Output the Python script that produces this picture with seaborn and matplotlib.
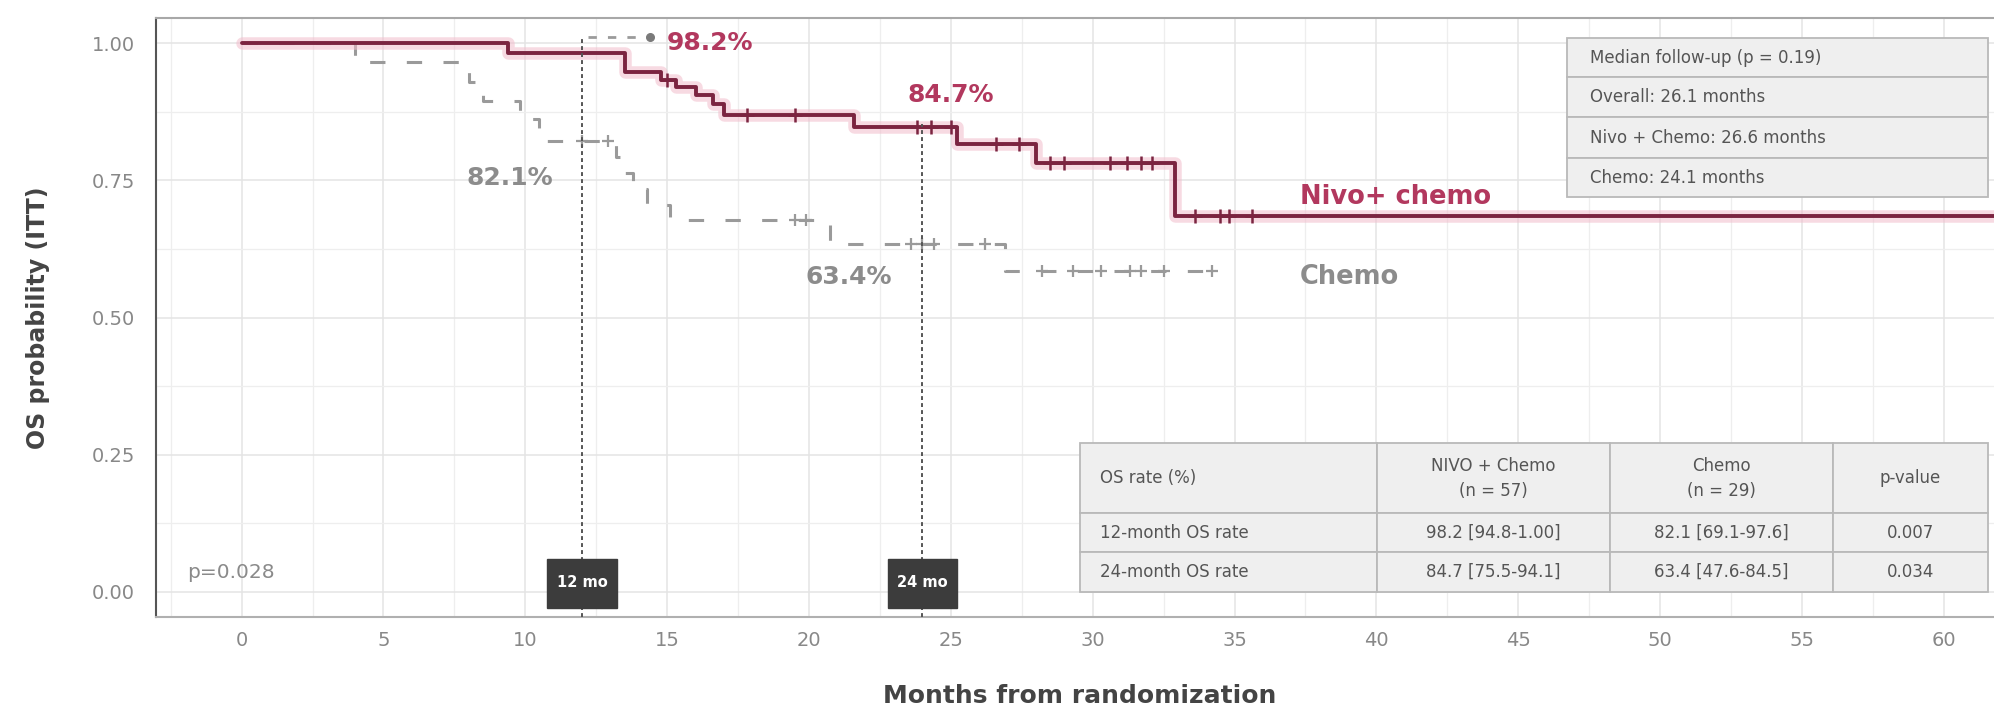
import numpy as np
import pandas as pd
import matplotlib
matplotlib.use("Agg")
import matplotlib.pyplot as plt
from matplotlib.patches import Rectangle
from matplotlib.ticker import MultipleLocator
import seaborn as sns

# ---- Kaplan-Meier estimates (months, survival after each event) ----
nivo_times = [0, 9.4, 13.5, 14.8, 15.3, 16.0, 16.6, 17.0, 21.6, 25.2, 28.0, 32.9, 62.5]
nivo_surv = [1.0, 0.982, 0.948, 0.933, 0.920, 0.905, 0.890, 0.869, 0.847, 0.817, 0.781, 0.685, 0.685]
nivo_censor = [15.0, 17.8, 19.5, 23.8, 24.3, 25.0, 26.6, 27.4, 28.5, 29.0, 30.6,
               31.2, 31.7, 32.1, 33.6, 34.5, 34.8, 35.6]

chemo_times = [0, 4.0, 8.0, 8.5, 9.8, 10.5, 13.2, 13.5, 13.8, 14.3, 15.1, 20.75, 26.9, 34.2]
chemo_surv = [1.0, 0.965, 0.930, 0.895, 0.862, 0.821, 0.792, 0.763, 0.734, 0.706, 0.678, 0.634, 0.585, 0.585]
chemo_censor = [12.0, 12.9, 19.5, 19.9, 23.6, 24.0, 24.4, 26.2, 28.2, 29.3, 30.3,
                31.3, 31.7, 32.5, 34.2]

landmark_months = [12, 24]
landmark_labels = ["12 mo", "24 mo"]

arm_names = ["Nivo+ chemo", "Chemo"]
p_logrank = "p=0.028"

followup_lines = ["Median follow-up (p = 0.19)", "Overall: 26.1 months",
                  "Nivo + Chemo: 26.6 months", "Chemo: 24.1 months"]

table_header = ["OS rate (%)", "NIVO + Chemo\n(n = 57)", "Chemo\n(n = 29)", "p-value"]
table_rows = [
    ["12-month OS rate", "98.2 [94.8-1.00]", "82.1 [69.1-97.6]", "0.007"],
    ["24-month OS rate", "84.7 [75.5-94.1]", "63.4 [47.6-84.5]", "0.034"],
]

x_ticks = list(range(0, 61, 5))
y_ticks = [0.0, 0.25, 0.50, 0.75, 1.00]

# ---- style ----
sns.set_theme(style="white")
plt.rcParams["font.family"] = ["DejaVu Sans"]

NIVO = "#7b2440"
NIVO_TXT = "#b2385e"
NIVO_GLOW = "#f2bccb"
CHEMO = "#9a9a9a"
CHEMO_TXT = "#8c8c8c"
TXT = "#555555"


def step_value(times, surv, t):
    i = np.searchsorted(np.asarray(times), t, side="right") - 1
    return np.asarray(surv)[i]


km = pd.concat([
    pd.DataFrame({"month": nivo_times, "surv": nivo_surv, "arm": arm_names[0]}),
    pd.DataFrame({"month": chemo_times, "surv": chemo_surv, "arm": arm_names[1]}),
], ignore_index=True)

cens = pd.concat([
    pd.DataFrame({"month": nivo_censor,
                  "surv": step_value(nivo_times, nivo_surv, np.array(nivo_censor)),
                  "arm": arm_names[0]}),
    pd.DataFrame({"month": chemo_censor,
                  "surv": step_value(chemo_times, chemo_surv, np.array(chemo_censor)),
                  "arm": arm_names[1]}),
], ignore_index=True)

fig = plt.figure(figsize=(19.94, 7.07), dpi=100)
ax = fig.add_axes([0.0782, 0.1273, 0.9218, 0.8472])
ax.set_facecolor("white")

# grid
ax.xaxis.set_major_locator(MultipleLocator(5))
ax.xaxis.set_minor_locator(MultipleLocator(2.5))
ax.yaxis.set_minor_locator(MultipleLocator(0.125))
ax.grid(which="major", color="#e4e4e4", lw=1.1, zorder=0)
ax.grid(which="minor", color="#eeeeee", lw=0.9, zorder=0)
ax.set_axisbelow(True)

nivo_df = km[km.arm == arm_names[0]]
chemo_df = km[km.arm == arm_names[1]]

# chemo arm: dashed grey step curve
sns.lineplot(data=chemo_df, x="month", y="surv", drawstyle="steps-post", estimator=None,
             color=CHEMO, lw=2.2, linestyle=(0, (5, 7)), ax=ax, legend=False, zorder=3)
# nivo + chemo arm: solid maroon step curve with soft halo
sns.lineplot(data=nivo_df, x="month", y="surv", drawstyle="steps-post", estimator=None,
             color=NIVO_GLOW, lw=9, alpha=0.55, ax=ax, legend=False, zorder=3)
sns.lineplot(data=nivo_df, x="month", y="surv", drawstyle="steps-post", estimator=None,
             color=NIVO, lw=2.8, ax=ax, legend=False, zorder=4)

# censoring marks
sns.scatterplot(data=cens[cens.arm == arm_names[1]], x="month", y="surv", marker="+",
                s=80, linewidth=1.6, color=CHEMO, ax=ax, legend=False, zorder=4)
sns.scatterplot(data=cens[cens.arm == arm_names[0]], x="month", y="surv", marker="+",
                s=90, linewidth=1.8, color=NIVO, ax=ax, legend=False, zorder=5)

ymin, ymax = -0.046, 1.046
ax.set_xlim(-3.02, 61.77)
ax.set_ylim(ymin, ymax)

# landmark guides at 12 and 24 months
nivo_at = [step_value(nivo_times, nivo_surv, m) for m in landmark_months]
chemo_at = [step_value(chemo_times, chemo_surv, m) for m in landmark_months]
guide_tops = [1.013, nivo_at[1] + 0.006]
for m, top in zip(landmark_months, guide_tops):
    ax.plot([m, m], [ymin, top], color="#555555", lw=1.4, linestyle=(0, (2, 1.6)), zorder=5)

# leader from the 12-month guide to the label
ax.plot([landmark_months[0] + 0.2, landmark_months[0] + 2.4], [1.012, 1.012],
        color="#9a9a9a", lw=2, linestyle=(0, (3, 4)), zorder=5)
ax.scatter([landmark_months[0] + 2.4], [1.012], s=30, color="#7a7a7a", zorder=6)

for m, lab in zip(landmark_months, landmark_labels):
    ax.add_patch(Rectangle((m - 1.22, -0.029), 2.44, 0.089, facecolor="#3c3c3c",
                           edgecolor="#3c3c3c", zorder=7))
    ax.text(m, 0.016, lab, color="white", fontsize=10.5, fontweight="bold",
            ha="center", va="center", zorder=8)

# survival rate labels
ax.text(14.98, 1.0, f"{nivo_at[0] * 100:.1f}%", color=NIVO_TXT, fontsize=18,
        fontweight="bold", ha="left", va="center", zorder=6)
ax.text(25.0, 0.905, f"{nivo_at[1] * 100:.1f}%", color=NIVO_TXT, fontsize=18,
        fontweight="bold", ha="center", va="center", zorder=6)
ax.text(9.46, 0.754, f"{chemo_at[0] * 100:.1f}%", color=CHEMO_TXT, fontsize=18,
        fontweight="bold", ha="center", va="center", zorder=6)
ax.text(21.4, 0.574, f"{chemo_at[1] * 100:.1f}%", color=CHEMO_TXT, fontsize=18,
        fontweight="bold", ha="center", va="center", zorder=6)

# arm labels
ax.text(37.3, 0.720, arm_names[0], color=NIVO_TXT, fontsize=18.5, fontweight="bold",
        ha="left", va="center", zorder=6)
ax.text(37.3, 0.574, arm_names[1], color=CHEMO_TXT, fontsize=18.5, fontweight="bold",
        ha="left", va="center", zorder=6)

ax.text(-1.92, 0.035, p_logrank, color="#8a8a8a", fontsize=14.5, ha="left",
        va="center", zorder=6)

# ---- median follow-up box ----
box_x = (0.7677, 0.9967)
box_y = [0.9666, 0.9015, 0.8347, 0.7663, 0.7012]
for i, line in enumerate(followup_lines):
    y1, y0 = box_y[i], box_y[i + 1]
    ax.add_patch(Rectangle((box_x[0], y0), box_x[1] - box_x[0], y1 - y0,
                           transform=ax.transAxes, facecolor="#efefef",
                           edgecolor="#b9b9b9", lw=1.3, zorder=8, clip_on=False))
    ax.text(0.780, (y0 + y1) / 2, line, transform=ax.transAxes, color=TXT,
            fontsize=12, ha="left", va="center", zorder=9)

# ---- OS rate table ----
col_x = [0.5027, 0.6643, 0.7911, 0.9124, 0.9967]
row_y = [0.2905, 0.1736, 0.1085, 0.0417]
all_rows = [table_header] + table_rows
for r, row in enumerate(all_rows):
    y1, y0 = row_y[r], row_y[r + 1]
    for c, val in enumerate(row):
        x0, x1 = col_x[c], col_x[c + 1]
        ax.add_patch(Rectangle((x0, y0), x1 - x0, y1 - y0, transform=ax.transAxes,
                               facecolor="#efefef", edgecolor="#b9b9b9", lw=1.3,
                               zorder=8, clip_on=False))
        if c == 0:
            ax.text(x0 + 0.011, (y0 + y1) / 2, val, transform=ax.transAxes, color=TXT,
                    fontsize=12, ha="left", va="center", zorder=9)
        else:
            ax.text((x0 + x1) / 2, (y0 + y1) / 2, val, transform=ax.transAxes, color=TXT,
                    fontsize=12, ha="center", va="center", zorder=9, linespacing=1.5)

# ---- axes ----
ax.set_xticks(x_ticks)
ax.set_xticklabels([str(t) for t in x_ticks])
ax.set_yticks(y_ticks)
ax.set_yticklabels([f"{t:.2f}" for t in y_ticks])
ax.tick_params(axis="both", which="major", direction="out", length=5, width=1.3,
               color="#555555", labelcolor="#888888", labelsize=14)
ax.tick_params(axis="x", which="major", pad=5)
ax.tick_params(axis="y", which="major", pad=10)
ax.tick_params(axis="both", which="minor", length=0)

ax.spines["left"].set_color("#555555")
ax.spines["left"].set_linewidth(1.5)
ax.spines["bottom"].set_color("#b0b0b0")
ax.spines["bottom"].set_linewidth(1.5)
ax.spines["top"].set_color("#a8a8a8")
ax.spines["top"].set_linewidth(1.5)
ax.spines["right"].set_visible(False)

ax.set_xlabel("Months from randomization", fontsize=18, fontweight="bold", color="#444444")
ax.set_ylabel("OS probability (ITT)", fontsize=17, fontweight="bold", color="#444444")
ax.xaxis.set_label_coords(0.5027, -0.112)
ax.yaxis.set_label_coords(-0.0577, 0.5)

fig.savefig("out.png", dpi=100, facecolor="white")
